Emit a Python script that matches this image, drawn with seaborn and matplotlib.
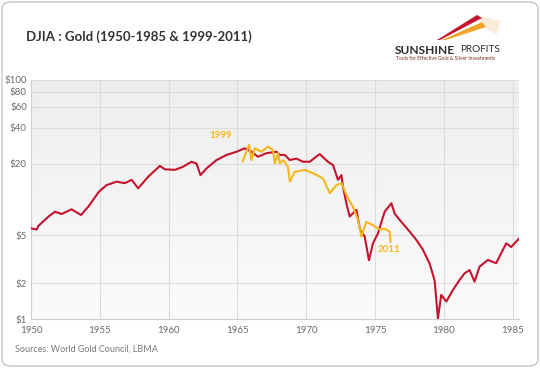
import numpy as np
import pandas as pd
import matplotlib
matplotlib.use("Agg")
import matplotlib.pyplot as plt
import seaborn as sns
from matplotlib.patches import FancyBboxPatch, Polygon
from matplotlib.ticker import FixedLocator, NullLocator
from matplotlib.colors import LinearSegmentedColormap

# DJIA : Gold ratio, 1950-1985
djia_years = [1950.00, 1950.41, 1950.53, 1951.26, 1951.74, 1952.23, 1952.95, 1953.63, 1954.16, 1954.93,
              1955.49, 1956.22, 1956.82, 1957.31, 1957.79, 1958.51, 1959.36, 1959.72, 1960.45, 1961.05,
              1961.66, 1962.02, 1962.31, 1962.75, 1963.48, 1964.20, 1964.93, 1965.53, 1966.02, 1966.49,
              1967.10, 1967.83, 1968.07, 1968.43, 1968.80, 1969.28, 1969.76, 1970.25, 1970.97, 1971.57,
              1971.94, 1972.30, 1972.55, 1972.66, 1972.91, 1973.15, 1973.64, 1973.90, 1974.24, 1974.55,
              1974.84, 1975.20, 1975.69, 1976.18, 1976.42, 1976.90, 1977.50, 1977.99, 1978.47, 1978.96,
              1979.32, 1979.56, 1979.80, 1980.17, 1980.65, 1981.13, 1981.50, 1981.86, 1982.22, 1982.58,
              1983.19, 1983.79, 1984.52, 1984.88, 1985.44]
djia_ratio = [5.74, 5.6, 6.0, 7.18, 7.9, 7.56, 8.28, 7.42, 8.7, 11.6,
              13.2, 14.1, 13.7, 14.6, 12.4, 15.5, 19.1, 17.9, 17.7, 18.8,
              20.7, 20.0, 16.0, 18.2, 21.4, 23.6, 25.1, 26.8, 25.1, 22.8,
              24.4, 25.1, 23.6, 23.6, 21.4, 22.0, 20.7, 20.7, 24.0, 20.7,
              19.4, 14.6, 16.0, 12.8, 9.3, 7.2, 8.2, 5.6, 4.9, 3.1,
              4.3, 5.2, 7.9, 9.3, 7.6, 6.5, 5.4, 4.6, 3.8, 2.9,
              2.1, 1.01, 1.59, 1.40, 1.75, 2.12, 2.41, 2.57, 2.05, 2.74,
              3.12, 2.93, 4.3, 4.0, 4.7]

# 1999-2011 ratio, shifted onto the 1965-1976 time axis
recent_years = [1965.36, 1965.84, 1966.01, 1966.26, 1966.74, 1967.22, 1967.58, 1967.71, 1967.95, 1968.07,
                1968.31, 1968.67, 1968.80, 1969.16, 1969.28, 1969.88, 1970.49, 1971.21, 1971.70, 1972.18,
                1972.55, 1973.03, 1973.39, 1973.75, 1974.00, 1974.36, 1974.84, 1975.33, 1975.69, 1976.05,
                1976.12]
recent_ratio = [20.7, 28.6, 21.4, 26.8, 25.1, 27.7, 26.0, 20.0, 24.4, 20.0,
                21.4, 18.8, 14.1, 17.1, 17.1, 17.7, 16.6, 15.0, 11.3, 13.2,
                13.7, 10.2, 8.7, 6.8, 4.9, 6.5, 6.1, 5.6, 5.7, 5.4,
                4.4]

y_ticks = [1, 2, 5, 20, 40, 60, 80, 100]
y_labels = ["$1", "$2", "$5", "$20", "$40", "$60", "$80", "$100"]
x_ticks = [1950, 1955, 1960, 1965, 1970, 1975, 1980, 1985]

RED = "#c4142f"
GOLD = "#f4b71d"

sns.set_theme(style="white")
plt.rcParams['font.family'] = ['Lato', 'DejaVu Sans']

W, H = 540, 368
fig = plt.figure(figsize=(W / 100, H / 100), dpi=100)
fig.patch.set_facecolor("white")


def px(x, y):
    return (x / W, 1 - y / H)


# rounded card, kept behind the axes
card = FancyBboxPatch((2 / W, 2 / H), (W - 4) / W, (H - 4) / H,
                      boxstyle="round,pad=0,rounding_size=0.018",
                      transform=fig.transFigure, fc="white", ec="#c6c6c6", lw=1.0,
                      zorder=-10)
fig.add_artist(card)

ax = fig.add_axes([31 / W, 1 - 319 / H, (519 - 31) / W, (319 - 80) / H])
ax.set_zorder(1)
ax.set_yscale("log")

# soft grey gradient behind the plot
bg = LinearSegmentedColormap.from_list("bg", ["#eeeeee", "#fbfbfb"])
ax.imshow(np.linspace(0, 1, 100).reshape(-1, 1), cmap=bg, extent=[0, 1, 0, 1],
          transform=ax.transAxes, aspect="auto", zorder=0)

sns.lineplot(x=djia_years, y=djia_ratio, ax=ax, color=RED, lw=1.5,
             sort=False, estimator=None, zorder=3)
sns.lineplot(x=recent_years, y=recent_ratio, ax=ax, color=GOLD, lw=1.5,
             sort=False, estimator=None, zorder=4)

ax.set_xlim(1950, 1985.45)
ax.set_ylim(1, 100)
ax.yaxis.set_major_locator(FixedLocator(y_ticks))
ax.yaxis.set_minor_locator(NullLocator())
ax.set_yticklabels(y_labels)
ax.set_xticks(x_ticks)
ax.set_xticklabels([str(x) for x in x_ticks])
ax.set_xlabel("")
ax.set_ylabel("")

ax.grid(True, color="#dcdcdc", lw=0.8)
ax.set_axisbelow(True)
for side in ["top", "right"]:
    ax.spines[side].set_visible(False)
for side in ["left", "bottom"]:
    ax.spines[side].set_color("#cfcfcf")
    ax.spines[side].set_linewidth(0.8)
ax.tick_params(length=0, labelsize=7, labelcolor="#6a6a6a")
ax.tick_params(axis="y", pad=3)
ax.tick_params(axis="x", pad=5)

ax.annotate("1999", xy=(recent_years[0], recent_ratio[0]), xytext=(-16, 19),
            textcoords="offset points", color=GOLD, fontsize=7, fontweight="bold",
            ha="center", va="center")
ax.annotate("2011", xy=(recent_years[-1], recent_ratio[-1]), xytext=(-1, -5),
            textcoords="offset points", color=GOLD, fontsize=7, fontweight="bold",
            ha="center", va="center")

# title and source
fig.text(*px(26, 37), "DJIA : Gold (1950-1985 & 1999-2011)", fontsize=9.5,
         fontweight="bold", color="#333333", va="center", ha="left")
fig.text(*px(15, 349), "Sources: World Gold Council, LBMA", fontsize=6.5,
         color="#7a7a7a", va="center", ha="left")

# logo
fig.add_artist(Polygon([px(476, 15), px(500, 21), px(497, 34), px(487, 29)],
                       closed=True, transform=fig.transFigure, fc="#f7e6cf", ec="none", alpha=0.8))
fig.add_artist(Polygon([px(437, 40), px(477, 15), px(482, 18), px(440, 40)],
                       closed=True, transform=fig.transFigure, fc=RED, ec="none"))
fig.add_artist(Polygon([px(442, 40), px(482, 22), px(486, 27), px(446, 40)],
                       closed=True, transform=fig.transFigure, fc="#f0a52a", ec="none"))
fig.text(*px(395, 50), "SUNSHINE", fontsize=8.6, fontweight="bold", color="#2b2b2b",
         va="center", ha="left")
fig.text(*px(460, 50), "PROFITS", fontsize=7.2, color="#2b2b2b", va="center", ha="left")
fig.text(*px(446, 58.5), "Tools for Effective Gold & Silver Investments", fontsize=3.6,
         color="#7a2a22", va="center", ha="center")

fig.savefig("out.png", dpi=100)
